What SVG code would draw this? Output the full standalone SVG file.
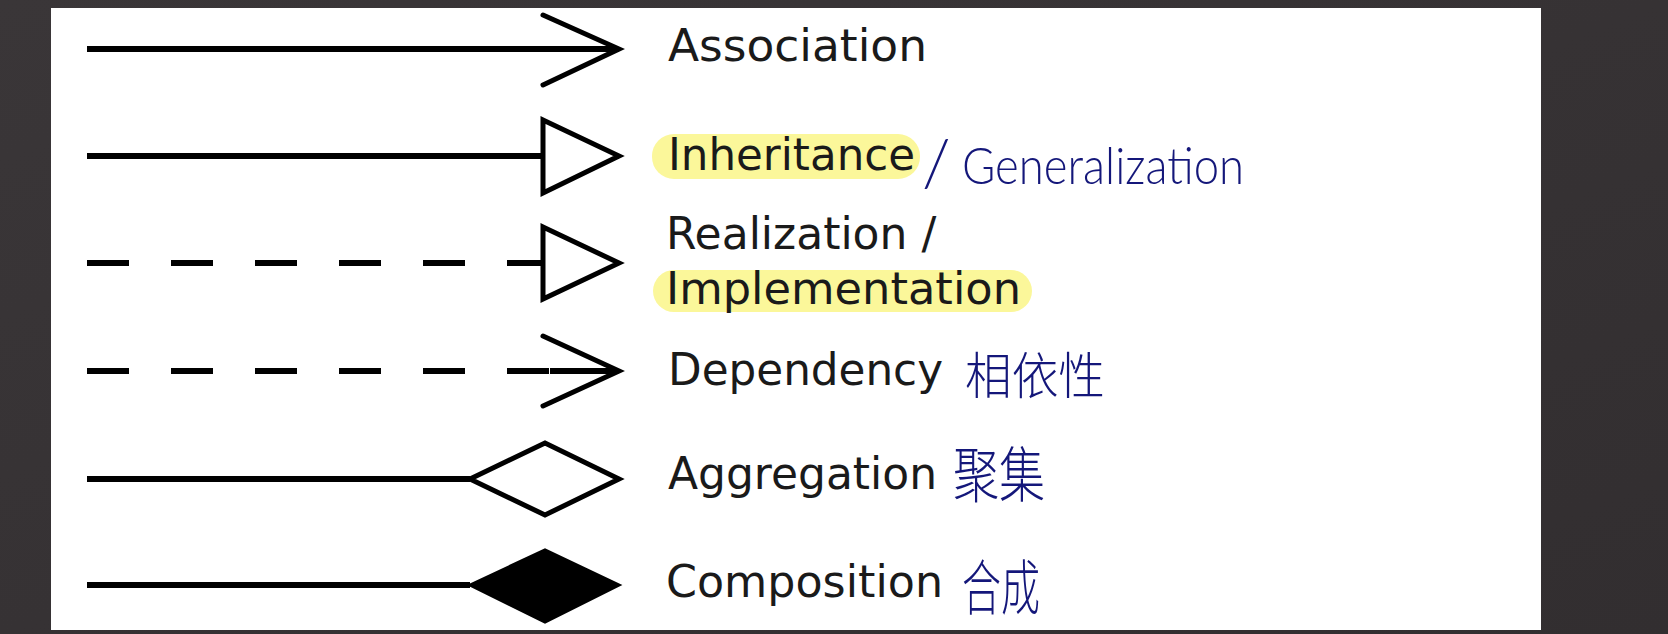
<svg xmlns="http://www.w3.org/2000/svg" width="1668" height="634" viewBox="0 0 1668 634">
<defs>
<linearGradient id="bg" x1="0" y1="0" x2="1" y2="1">
<stop offset="0" stop-color="#3a3638"/>
<stop offset="1" stop-color="#322e30"/>
</linearGradient>
</defs>
<style>
.ln{stroke:#000;stroke-width:6;fill:none}
.dash{stroke:#000;stroke-width:6;fill:none;stroke-dasharray:42 42}
.hd{stroke:#000;stroke-width:5;fill:none;stroke-linejoin:miter;stroke-linecap:round}
.hdw{stroke:#000;stroke-width:5;fill:#fff;stroke-linejoin:miter}
.hdb{stroke:#000;stroke-width:3;fill:#000}
.lbl{font-family:"DejaVu Sans",Verdana,sans-serif;font-size:44px;fill:#1a1a1a}
.hl{fill:#fbf79a}
.hw{font-family:"Lato","Liberation Sans",sans-serif;fill:#14177a;font-weight:300}
.hwc{font-family:"Noto Sans CJK SC",sans-serif;fill:#14177a;font-weight:300}
</style>
<rect width="1668" height="634" fill="url(#bg)"/>
<rect x="51" y="8" width="1490" height="622" fill="#ffffff"/>

<g id="connectors">
<line class="ln" x1="87" y1="49" x2="617" y2="49"/>
<polyline class="hd" points="543,15 619,49 543,85"/>

<line class="ln" x1="87" y1="156" x2="543" y2="156"/>
<polygon class="hdw" points="543,120 619,156 543,193"/>

<line class="dash" x1="87" y1="263" x2="543" y2="263"/>
<polygon class="hdw" points="543,227 619,263 543,299"/>

<line class="dash" x1="87" y1="371" x2="550" y2="371"/>
<line class="ln" x1="550" y1="371" x2="617" y2="371"/>
<polyline class="hd" points="543,336 619,371 543,406"/>

<line class="ln" x1="87" y1="479" x2="470" y2="479"/>
<polygon class="hdw" points="470,479 545,443 619,479 545,515"/>

<line class="ln" x1="87" y1="585" x2="470" y2="585"/>
<polygon class="hdb" points="470,585 545,550 619,585 545,622"/>
</g>

<g id="association">
<text class="lbl" x="668" y="61" textLength="259" lengthAdjust="spacingAndGlyphs">Association</text>
</g>

<g id="inheritance">
<rect class="hl" x="652" y="134" width="268" height="45" rx="22"/>
<text class="lbl" x="668" y="170" textLength="247" lengthAdjust="spacingAndGlyphs">Inheritance</text>
<text class="hw" x="922" y="186" font-size="66">/</text>
<text class="hw" x="962" y="184" font-size="52" textLength="282" lengthAdjust="spacingAndGlyphs">Generalization</text>
</g>

<g id="realization">
<rect class="hl" x="653" y="270" width="379" height="42" rx="21"/>
<text class="lbl" x="666" y="249">Realization /</text>
<text class="lbl" x="666" y="304" textLength="355" lengthAdjust="spacingAndGlyphs">Implementation</text>
</g>

<g id="dependency">
<text class="lbl" x="668" y="385" textLength="275" lengthAdjust="spacingAndGlyphs">Dependency</text>
<text class="hwc" x="965" y="394" font-size="50" textLength="140" lengthAdjust="spacingAndGlyphs">相依性</text>
</g>

<g id="aggregation">
<text class="lbl" x="668" y="489" textLength="269" lengthAdjust="spacingAndGlyphs">Aggregation</text>
<text class="hwc" x="953" y="497" font-size="60" textLength="92" lengthAdjust="spacingAndGlyphs">聚集</text>
</g>

<g id="composition">
<text class="lbl" x="666" y="597" textLength="277" lengthAdjust="spacingAndGlyphs">Composition</text>
<text class="hwc" x="962" y="610" font-size="60" textLength="78" lengthAdjust="spacingAndGlyphs">合成</text>
</g>
</svg>
